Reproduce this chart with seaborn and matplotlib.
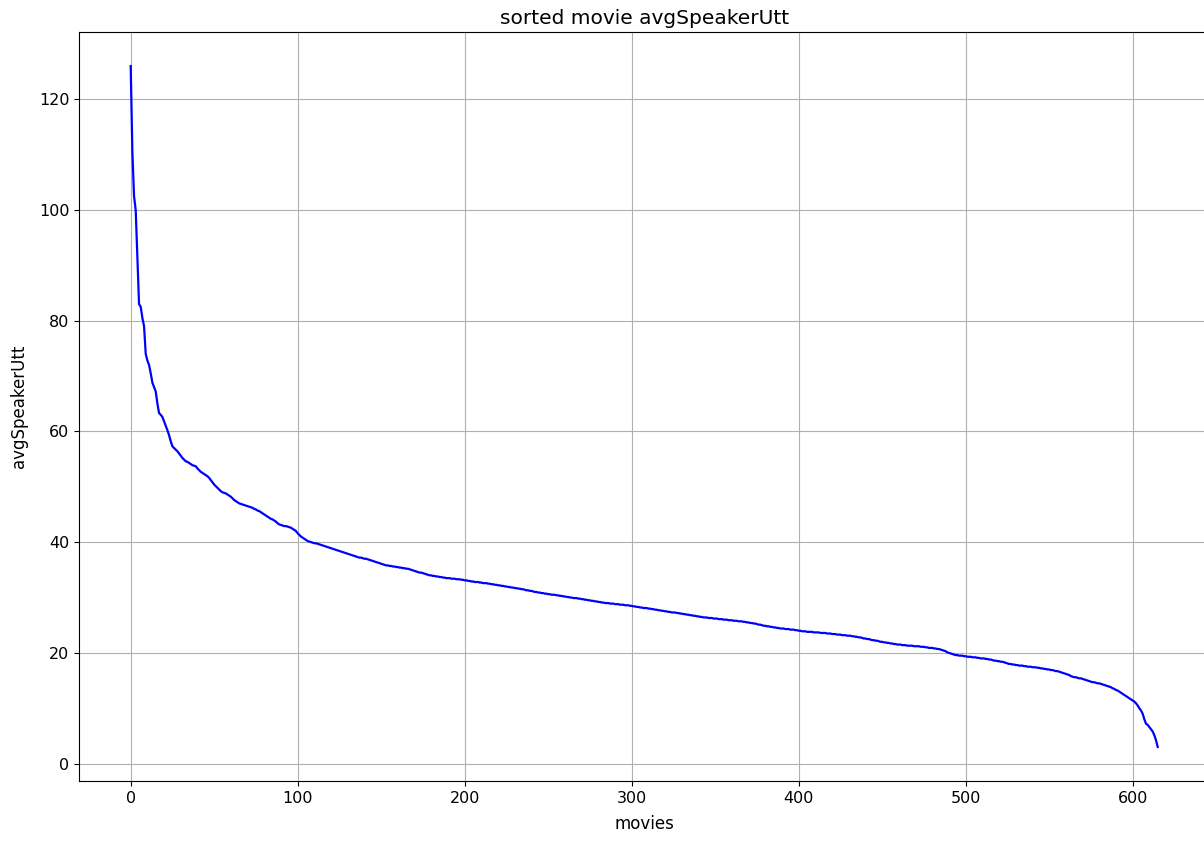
import numpy as np
import pandas as pd
import seaborn as sns
import matplotlib
matplotlib.use("Agg")
import matplotlib.pyplot as plt

# avgSpeakerUtt per movie, sorted descending
avgSpeakerUtt = [
    126.0, 110.5, 102.5, 100.0, 91.5, 83.0, 82.5, 80.5, 79.0, 74.0,
    72.8, 72.0, 70.5, 68.8, 68.0, 67.2, 65.0, 63.3, 63.0, 62.6,
    61.8, 61.0, 60.2, 59.3, 58.2, 57.3, 57.0, 56.7, 56.4, 56.0,
    55.6, 55.2, 54.9, 54.6, 54.5, 54.3, 54.1, 53.9, 53.8, 53.7,
    53.3, 53.0, 52.7, 52.5, 52.3, 52.1, 51.9, 51.6, 51.2, 50.8,
    50.4, 50.1, 49.8, 49.5, 49.2, 49.0, 48.9, 48.8, 48.6, 48.4,
    48.2, 47.9, 47.6, 47.4, 47.2, 47.0, 46.9, 46.8, 46.7, 46.6,
    46.5, 46.4, 46.3, 46.2, 46.0, 45.9, 45.7, 45.6, 45.4, 45.2,
    45.0, 44.8, 44.6, 44.4, 44.2, 44.1, 43.9, 43.7, 43.4, 43.2,
    43.1, 43.0, 42.9, 42.9, 42.8, 42.7, 42.6, 42.4, 42.2, 42.0,
    41.6, 41.3, 41.0, 40.8, 40.6, 40.4, 40.2, 40.1, 40.0, 39.9,
    39.8, 39.8, 39.7, 39.6, 39.5, 39.4, 39.3, 39.2, 39.1, 39.0,
    38.9, 38.8, 38.7, 38.6, 38.5, 38.4, 38.3, 38.2, 38.1, 38.0,
    37.9, 37.8, 37.7, 37.6, 37.5, 37.4, 37.3, 37.2, 37.2, 37.1,
    37.0, 37.0, 36.9, 36.8, 36.7, 36.6, 36.5, 36.4, 36.3, 36.2,
    36.1, 36.0, 35.9, 35.8, 35.8, 35.7, 35.7, 35.6, 35.6, 35.5,
    35.5, 35.4, 35.4, 35.3, 35.3, 35.2, 35.2, 35.1, 35.0, 34.9,
    34.8, 34.7, 34.6, 34.5, 34.5, 34.4, 34.3, 34.2, 34.1, 34.0,
    34.0, 33.9, 33.9, 33.8, 33.8, 33.7, 33.7, 33.6, 33.6, 33.5,
    33.5, 33.5, 33.4, 33.4, 33.4, 33.3, 33.3, 33.3, 33.2, 33.2,
    33.1, 33.1, 33.0, 33.0, 32.9, 32.9, 32.8, 32.8, 32.8, 32.7,
    32.7, 32.6, 32.6, 32.6, 32.5, 32.5, 32.4, 32.4, 32.3, 32.3,
    32.2, 32.2, 32.1, 32.1, 32.0, 32.0, 31.9, 31.9, 31.8, 31.8,
    31.7, 31.7, 31.6, 31.6, 31.5, 31.5, 31.4, 31.3, 31.3, 31.2,
    31.2, 31.1, 31.0, 31.0, 30.9, 30.9, 30.8, 30.8, 30.7, 30.7,
    30.6, 30.6, 30.5, 30.5, 30.5, 30.4, 30.4, 30.3, 30.3, 30.2,
    30.2, 30.1, 30.1, 30.0, 30.0, 29.9, 29.9, 29.9, 29.8, 29.8,
    29.7, 29.7, 29.6, 29.6, 29.5, 29.5, 29.4, 29.4, 29.3, 29.3,
    29.2, 29.2, 29.1, 29.1, 29.0, 29.0, 29.0, 28.9, 28.9, 28.9,
    28.8, 28.8, 28.8, 28.7, 28.7, 28.7, 28.6, 28.6, 28.6, 28.5,
    28.5, 28.4, 28.4, 28.3, 28.3, 28.2, 28.2, 28.1, 28.1, 28.1,
    28.0, 28.0, 27.9, 27.9, 27.8, 27.8, 27.7, 27.7, 27.6, 27.6,
    27.5, 27.5, 27.4, 27.4, 27.3, 27.3, 27.3, 27.2, 27.2, 27.1,
    27.1, 27.0, 27.0, 26.9, 26.9, 26.8, 26.8, 26.7, 26.7, 26.6,
    26.6, 26.5, 26.5, 26.4, 26.4, 26.4, 26.3, 26.3, 26.3, 26.2,
    26.2, 26.2, 26.1, 26.1, 26.1, 26.0, 26.0, 26.0, 25.9, 25.9,
    25.9, 25.8, 25.8, 25.8, 25.7, 25.7, 25.7, 25.6, 25.6, 25.5,
    25.5, 25.4, 25.4, 25.3, 25.3, 25.2, 25.1, 25.1, 25.0, 24.9,
    24.9, 24.8, 24.8, 24.7, 24.7, 24.6, 24.6, 24.5, 24.5, 24.4,
    24.4, 24.4, 24.3, 24.3, 24.3, 24.2, 24.2, 24.2, 24.1, 24.1,
    24.0, 24.0, 23.9, 23.9, 23.9, 23.8, 23.8, 23.8, 23.8, 23.7,
    23.7, 23.7, 23.7, 23.6, 23.6, 23.6, 23.6, 23.5, 23.5, 23.5,
    23.4, 23.4, 23.4, 23.3, 23.3, 23.3, 23.2, 23.2, 23.2, 23.1,
    23.1, 23.1, 23.0, 23.0, 22.9, 22.9, 22.8, 22.8, 22.7, 22.6,
    22.6, 22.5, 22.5, 22.4, 22.3, 22.3, 22.2, 22.2, 22.1, 22.0,
    22.0, 21.9, 21.9, 21.8, 21.8, 21.7, 21.7, 21.6, 21.6, 21.5,
    21.5, 21.5, 21.4, 21.4, 21.4, 21.3, 21.3, 21.3, 21.3, 21.2,
    21.2, 21.2, 21.2, 21.1, 21.1, 21.1, 21.0, 21.0, 20.9, 20.9,
    20.9, 20.8, 20.8, 20.7, 20.7, 20.6, 20.5, 20.4, 20.3, 20.1,
    20.0, 19.9, 19.8, 19.7, 19.6, 19.6, 19.5, 19.5, 19.5, 19.4,
    19.4, 19.3, 19.3, 19.3, 19.2, 19.2, 19.2, 19.1, 19.1, 19.0,
    19.0, 19.0, 18.9, 18.9, 18.8, 18.8, 18.7, 18.6, 18.6, 18.5,
    18.5, 18.4, 18.4, 18.3, 18.2, 18.1, 18.0, 18.0, 17.9, 17.9,
    17.8, 17.8, 17.7, 17.7, 17.7, 17.6, 17.6, 17.5, 17.5, 17.5,
    17.4, 17.4, 17.4, 17.3, 17.3, 17.2, 17.2, 17.1, 17.1, 17.0,
    17.0, 16.9, 16.9, 16.8, 16.7, 16.7, 16.6, 16.5, 16.4, 16.3,
    16.2, 16.1, 16.0, 15.8, 15.7, 15.6, 15.6, 15.5, 15.4, 15.4,
    15.3, 15.2, 15.1, 15.0, 14.9, 14.8, 14.7, 14.7, 14.6, 14.5,
    14.5, 14.4, 14.3, 14.2, 14.1, 14.0, 13.9, 13.8, 13.6, 13.5,
    13.3, 13.2, 13.0, 12.8, 12.6, 12.4, 12.2, 12.0, 11.8, 11.6,
    11.4, 11.2, 10.9, 10.5, 10.0, 9.6, 9.0, 8.0, 7.2, 7.0,
    6.6, 6.2, 5.8, 5.1, 4.2, 3.0,
]
movies = list(range(len(avgSpeakerUtt)))

df = pd.DataFrame({"movies": movies, "avgSpeakerUtt": avgSpeakerUtt})

fig = plt.figure(figsize=(12.04, 8.44), dpi=100)
# right edge of the axes sits just past the figure edge, like the cropped original
ax = fig.add_axes([0.0659, 0.0746, 0.9383, 0.8875])

sns.lineplot(data=df, x="movies", y="avgSpeakerUtt", color="blue", linewidth=1.6, ax=ax)

ax.grid(True)
ax.set_title("sorted movie avgSpeakerUtt", fontsize=14.5)
ax.set_xlabel("movies", fontsize=12, labelpad=7)
ax.set_ylabel("avgSpeakerUtt", fontsize=12, labelpad=8)
ax.tick_params(labelsize=11.5)

fig.savefig("out.png", dpi=100)
